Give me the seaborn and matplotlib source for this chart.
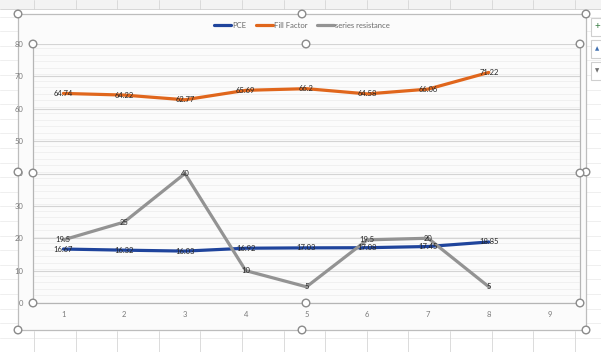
import numpy as np
import pandas as pd
import matplotlib
matplotlib.use("Agg")
import matplotlib.pyplot as plt
from matplotlib.patches import Circle, Rectangle
import seaborn as sns

# ---- data -------------------------------------------------------------
samples = [1, 2, 3, 4, 5, 6, 7, 8]
pce = [16.67, 16.32, 16.03, 16.92, 17.03, 17.08, 17.45, 18.85]
fill_factor = [64.74, 64.22, 62.77, 65.69, 66.2, 64.58, 66.06, 71.22]
series_resistance = [19.5, 25, 40, 10, 5, 19.5, 20, 5]
x_ticks = [1, 2, 3, 4, 5, 6, 7, 8, 9]
y_ticks = [0, 10, 20, 30, 40, 50, 60, 70, 80]
series_names = ["PCE", "Fill Factor", "series resistance"]

df = pd.DataFrame({
    "sample": samples * 3,
    "value": pce + fill_factor + series_resistance,
    "series": [series_names[0]] * 8 + [series_names[1]] * 8 + [series_names[2]] * 8,
})

colors = {"PCE": "#1f449c", "Fill Factor": "#e0661c", "series resistance": "#939393"}

sns.set_style("white")
plt.rcParams["font.family"] = ["Lato", "DejaVu Sans"]

W, H = 601, 352
fig = plt.figure(figsize=(W / 100, H / 100), dpi=100)
fig.patch.set_facecolor("white")

# ---- worksheet background (pixel coordinates) -------------------------
bg = fig.add_axes([0, 0, 1, 1], zorder=0)
bg.set_xlim(0, W)
bg.set_ylim(H, 0)
bg.axis("off")
for y in np.arange(2, H, 14.6):
    bg.plot([0, W], [y, y], color="#ececec", lw=0.6, zorder=0)
for x in np.arange(34, W, 41.6):
    bg.plot([x, x], [0, 9], color="#d6d6d6", lw=0.6)
    bg.plot([x, x], [331, H], color="#d6d6d6", lw=0.6)
bg.add_patch(Rectangle((0, 0), W, 9, facecolor="#f3f3f3", edgecolor="none", zorder=0.5))
bg.plot([0, W], [9, 9], color="#d0d0d0", lw=0.6)
# chart area
bg.add_patch(Rectangle((18, 14), 568, 316, facecolor="#fbfbfb", edgecolor="#bdbdbd",
                       lw=0.9, zorder=1))
for y in np.arange(48, 300, 6.5):
    bg.plot([34, 579], [y, y], color="#efefef", lw=0.6, zorder=1.2)
# side buttons
for y0 in (18, 40, 62):
    bg.add_patch(Rectangle((591, y0), 14, 18, facecolor="white", edgecolor="#cfcfcf",
                           lw=0.8, zorder=1))
bg.text(597, 27, "+", color="#3a7d44", fontsize=7, ha="center", va="center", zorder=2)
bg.text(597, 49, "▲", color="#3f6fb0", fontsize=4, ha="center", va="center", zorder=2)
bg.text(597, 71, "▼", color="#707070", fontsize=4, ha="center", va="center", zorder=2)

# ---- plot area --------------------------------------------------------
left, right, top, bottom = 33, 580, 44, 303
ax = fig.add_axes([left / W, 1 - bottom / H, (right - left) / W, (bottom - top) / H], zorder=2)
ax.patch.set_alpha(0)

sns.lineplot(data=df, x="sample", y="value", hue="series", palette=colors,
             linewidth=2.3, sort=False, ax=ax, legend=True)

ax.set_xlim(0.5, 9.5)
ax.set_ylim(0, 80)
ax.set_xticks(x_ticks)
ax.set_yticks(y_ticks)
ax.set_xticklabels([str(v) for v in x_ticks])
ax.set_yticklabels([str(v) for v in y_ticks])
ax.tick_params(axis="both", length=0, labelsize=5.5, labelcolor="#7a7a7a")
ax.tick_params(axis="x", pad=6)
ax.tick_params(axis="y", pad=7)
ax.set_xlabel("")
ax.set_ylabel("")
ax.grid(axis="y", color="#d4d4d4", lw=0.8)
ax.set_axisbelow(True)
for side, sp in ax.spines.items():
    sp.set_color("#b5b5b5")
    sp.set_linewidth(0.9)
ax.spines["top"].set_visible(False)

# data labels centred on each point
for name, vals in zip(series_names, [pce, fill_factor, series_resistance]):
    for xs, v in zip(samples, vals):
        ax.text(xs, v, f"{v:g}", ha="center", va="center", fontsize=5.5,
                color="#262626", zorder=5)

# legend along the top of the chart
handles, labels = ax.get_legend_handles_labels()
ax.legend(handles, labels, loc="center", bbox_to_anchor=(302 / W, 1 - 25 / H),
          bbox_transform=fig.transFigure, ncol=3, frameon=False, fontsize=5.5,
          labelcolor="#6a6a6a", handlelength=2.2, handletextpad=0.2, columnspacing=1.2)

# ---- selection handles ------------------------------------------------
ov = fig.add_axes([0, 0, 1, 1], zorder=3)
ov.set_xlim(0, W)
ov.set_ylim(H, 0)
ov.axis("off")
ov.patch.set_alpha(0)
outer = [(18, 14), (302, 14), (586, 14), (18, 172), (586, 172), (18, 330), (302, 330), (586, 330)]
inner = [(33, 44), (306, 44), (580, 44), (33, 173), (580, 173), (33, 303), (306, 303), (580, 303)]
for cx, cy in outer + inner:
    ov.add_patch(Circle((cx, cy), 3.8, facecolor="white", edgecolor="#8a8a8a", lw=1.0))

fig.savefig("out.png", dpi=100)
